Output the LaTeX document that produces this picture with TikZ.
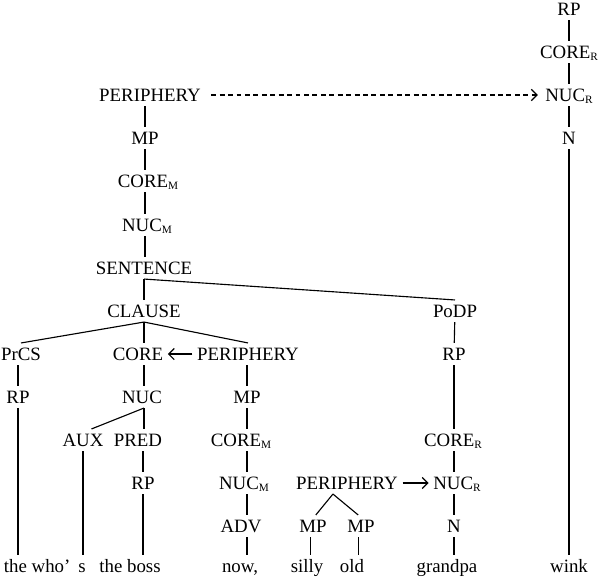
\documentclass[tikz,border=0pt]{standalone}
\usepackage{fontspec}
\setmainfont{Liberation Serif}
\usetikzlibrary{arrows.meta}
\tikzset{lab/.style = {inner xsep=1pt, inner ysep=3pt,
                       text height=8.9pt, text depth=0pt}}
\tikzset{arr/.style = {-{Straight Barb[length=4pt, width=8pt]},
                       shorten <=2pt, shorten >=2pt}}
\tikzset{darr/.style = {arr, dash pattern=on 3.5pt off 2.5pt,
                        shorten <=6pt, shorten >=4pt}}
\newcommand{\lsub}[1]{\raisebox{-0.3ex}{\fontsize{8pt}{8pt}\selectfont #1}}

\begin{document}
\begin{tikzpicture}[x=0.025cm, y=-0.025cm, every node/.style={lab},
                    font=\fontsize{13.4pt}{15pt}\selectfont, line width=0.8pt]
    \useasboundingbox (0, 0) rectangle (600, 581);
    % wink
    \node (rpR)   at (569, 9)   {RP};
    \node (coreR) at (569, 52)  {CORE\lsub{R}};
    \node (nucR)  at (569, 95)  {NUC\lsub{R}};
    \node (nR)    at (569, 138) {N};
    \node (wink)  at (569, 566) {wink};
    \draw (rpR) -- (coreR);
    \draw (coreR) -- (nucR);
    \draw (nucR) -- (nR);
    \draw (nR) -- (wink);
    % sentence periphery
    \node (periT) at (150, 95)  {PERIPHERY};
    \node (mpT)   at (145, 138) {MP};
    \node (coreM) at (148, 181) {CORE\lsub{M}};
    \node (nucM)  at (147, 225) {NUC\lsub{M}};
    \node (sent)  at (144, 268) {SENTENCE};
    \draw (mpT |- periT.south) -- (mpT);
    \draw (mpT) -- (mpT |- coreM.north);
    \draw (coreM.south -| mpT) -- (mpT |- nucM.north);
    \draw (nucM.south -| mpT) -- (mpT |- sent.north);
    \draw [darr] (periT) -- (nucR);
    % clause
    \node (clause) at (144, 311) {CLAUSE};
    \node (podp)   at (455, 311) {PoDP};
    \draw (sent.south) -- (sent.south |- clause.north);
    \draw (sent.south) -- (podp.north);
    \node (prcs)  at (21, 354)  {PrCS};
    \node (core)  at (138, 354) {CORE};
    \node (periC) at (248, 354) {PERIPHERY};
    \node (rpPo)  at (454, 354) {RP};
    \draw (clause.south) -- (prcs.north);
    \draw (clause.south) -- (clause.south |- core.north);
    \draw (clause.south) -- (periC.north);
    \draw (podp) -- (rpPo);
    \draw [arr] (periC) -- (core);
    \node (rpP) at (18, 397)  {RP};
    \node (nuc) at (142, 397) {NUC};
    \node (mpC) at (247, 397) {MP};
    \draw (rpP |- prcs.south) -- (rpP);
    \draw (clause.south |- core.south) -- (clause.south |- nuc.north);
    \draw (mpC |- periC.south) -- (mpC);
    \node (aux)    at (83, 440)  {AUX};
    \node (pred)   at (138, 440) {PRED};
    \node (coreMc) at (241, 440) {CORE\lsub{M}};
    \node (coreRp) at (453, 440) {CORE\lsub{R}};
    \draw (clause.south |- nuc.south) -- ([xshift=6pt]aux.north);
    \draw (clause.south |- nuc.south) -- (clause.south |- pred.north);
    \draw (mpC) -- (mpC |- coreMc.north);
    \draw (rpPo) -- (rpPo |- coreRp.north);
    \node (rpPred) at (143, 483) {RP};
    \node (nucMc)  at (244, 483) {NUC\lsub{M}};
    \node (periN)  at (347, 483) {PERIPHERY};
    \node (nucRp)  at (457, 483) {NUC\lsub{R}};
    \draw (rpPred |- pred.south) -- (rpPred);
    \draw (coreMc.south -| mpC) -- (mpC |- nucMc.north);
    \draw (coreRp.south -| rpPo) -- (rpPo |- nucRp.north);
    \draw [arr] (periN) -- (nucRp);
    \node (adv) at (241, 526) {ADV};
    \node (mpA) at (313, 526) {MP};
    \node (mpB) at (361, 526) {MP};
    \node (nPo) at (454, 526) {N};
    \draw (nucMc.south -| mpC) -- (mpC |- adv.north);
    \draw ([xshift=-10pt]periN.south) -- ([xshift=2pt]mpA.north);
    \draw ([xshift=-10pt]periN.south) -- ([xshift=-2pt]mpB.north);
    \draw (nucRp.south -| rpPo) -- (rpPo |- nPo.north);
    % words
    \node [anchor=west] (w1) at (2, 566) {the who’};
    \node (w2)      at (82, 566)  {s};
    \node (w3)      at (130, 566) {the boss};
    \node (w4)      at (240, 566) {now,};
    \node (silly)   at (307, 566) {silly};
    \node (old)     at (352, 566) {old};
    \node (grandpa) at (447, 566) {grandpa};
    \draw (rpP) -- (rpP |- w1.north);
    \draw (aux) -- (aux |- w2.north);
    \draw (rpPred) -- (rpPred |- w3.north);
    \draw (adv.south -| mpC) -- (mpC |- w4.north);
    \draw ([xshift=-2pt]mpA.south) -- ([xshift=-2pt]mpA.south |- silly.north);
    \draw ([xshift=-2pt]mpB.south) -- ([xshift=-2pt]mpB.south |- old.north);
    \draw (nPo.south -| rpPo) -- (rpPo |- grandpa.north);
\end{tikzpicture}
\end{document}
